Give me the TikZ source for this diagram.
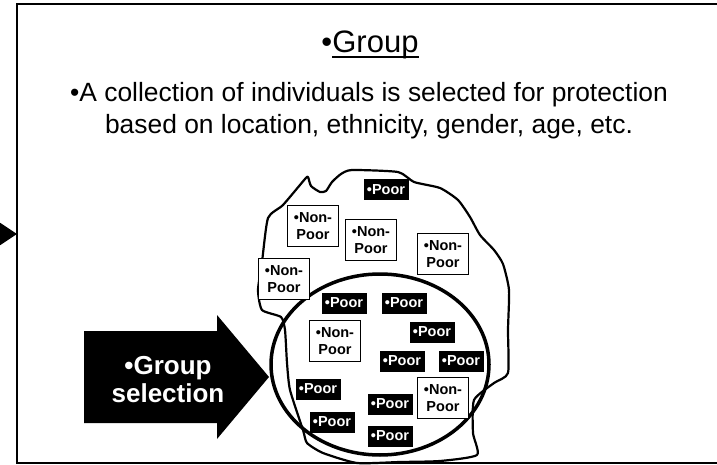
\documentclass[tikz,border=0pt]{standalone}
\usepackage{fontspec}
\setmainfont{Liberation Sans}
\usetikzlibrary{arrows.meta}

\newcommand{\thickul}[1]{\setbox0\hbox{#1}\rlap{\rule[-5pt]{\wd0}{2.4pt}}#1}

\begin{document}
\begin{tikzpicture}[
    x=1pt, y=-1pt,
    poor/.style = {rectangle, fill=black, text=white, font=\bfseries\fontsize{14.5}{16.7}\selectfont, minimum width=45pt, minimum height=21pt, inner sep=0pt},
    nonpoor/.style = {rectangle, draw, line width=1.5pt, fill=white, align=center, font=\bfseries\fontsize{14.5}{16.7}\selectfont, minimum width=51pt, minimum height=41pt, inner sep=0pt},
    heading/.style = {font=\fontsize{31}{37}\selectfont, inner sep=0pt},
    bodytext/.style = {align=center, font=\fontsize{26.4}{32}\selectfont, inner sep=0pt},
    sellabel/.style = {align=center, text=white, font=\bfseries\fontsize{26}{28}\selectfont, inner sep=0pt},
    arrow/.style = {-{Triangle[length=17pt, width=22pt]}}
]
\useasboundingbox (0,0) rectangle (717,465);
\clip (0,0) rectangle (717,465);

% Slide frame and the arrow coming in from the left
\draw[line width=2.5pt] (17,4) rectangle (760,463);
\coordinate (offleft) at (-40,234);
\coordinate (framewest) at (17,234);
\draw[arrow, line width=2pt] (offleft) -- (framewest);

% Title and text
\node[heading, anchor=base] (title) at (370,53) {•\thickul{Group}};
\node[bodytext, anchor=base] (desc) at (369,134) {•A collection of individuals is selected for protection\\based on location, ethnicity, gender, age, etc.};

% Population outline
\draw[line width=2.2pt, line join=round] plot[smooth cycle, tension=0.35] coordinates {
    (305,179) (308,177) (311,186) (320,192) (326,191) (332,182) (341,174) (352,170)
    (398,172) (414,182) (440,188) (458,200) (470,217) (480,235) (494,250) (503,264)
    (509,290) (508,330) (508,373) (494,383) (474,400) (473,433) (477,455) (440,461)
    (400,462) (357,463) (323,453) (307,443) (303,430) (290,390) (287,363) (285,330)
    (281,317) (262,310) (258,290) (262,262) (268,218) (283,205)};

% Selected group
\draw[line width=3.5pt] (380,364.5) ellipse [x radius=109, y radius=90.5];

% Group selection arrow
\fill (84,331) -- (217,331) -- (217,315) -- (269,377) -- (217,439) -- (217,423) -- (84,423) -- cycle;
\node[sellabel] (sel) at (168,380) {•Group\\selection};

% Individuals outside the group
\node[poor] (p0) at (386,190) {•Poor};
\node[nonpoor] (n1) at (313,226) {•Non-\\Poor};
\node[nonpoor] (n2) at (371,240) {•Non-\\Poor};
\node[nonpoor] (n3) at (443,254) {•Non-\\Poor};
\node[nonpoor] (n4) at (284,279) {•Non-\\Poor};

% Individuals inside the group
\node[poor] (p1) at (344,303) {•Poor};
\node[poor] (p2) at (404,303) {•Poor};
\node[nonpoor] (n5) at (335,341) {•Non-\\Poor};
\node[poor] (p3) at (432,332) {•Poor};
\node[poor] (p4) at (402,361) {•Poor};
\node[poor] (p5) at (461,361) {•Poor};
\node[poor] (p6) at (318,389) {•Poor};
\node[poor] (p7) at (390,404) {•Poor};
\node[nonpoor] (n6) at (443,398) {•Non-\\Poor};
\node[poor] (p8) at (332,422) {•Poor};
\node[poor] (p9) at (390,436) {•Poor};

\end{tikzpicture}
\end{document}
